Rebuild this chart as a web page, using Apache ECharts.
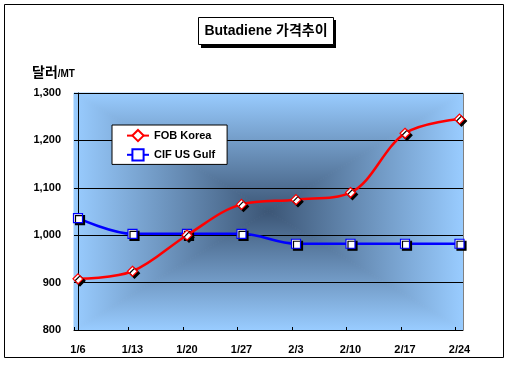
<!DOCTYPE html>
<html><head><meta charset="utf-8">
<script src="https://cdn.jsdelivr.net/npm/echarts@6/dist/echarts.min.js"></script>
<style>html,body{margin:0;padding:0;background:#fff}#c{width:508px;height:367px}</style>
</head><body><div id="c"></div>
<script>
const categories = ['1/6','1/13','1/20','1/27','2/3','2/10','2/17','2/24'];
const fobKorea = [908, 924, 1000, 1065, 1075, 1090, 1215, 1245];
const cifUsGulf = [1036, 1003, 1003, 1003, 982, 982, 982, 982];
const yTicks = [800, 900, 1000, 1100, 1200, 1300];
const titleText = 'Butadiene 가격추이';
const seriesNames = ['FOB Korea', 'CIF US Gulf'];

const chart = echarts.init(document.getElementById('c'), null, {renderer:'canvas'});
const L = 74, R = 463, T = 93, B = 330;
const cx = (L + R) / 2, cy = (T + B) / 2;
const edge = '#99CCFF', dark = '#3c5676';
function lg(x1,y1,x2,y2){ return new echarts.graphic.LinearGradient(x1,y1,x2,y2,[{offset:0,color:edge},{offset:1,color:dark}],true); }
function tri(points, g){ return {type:'polygon', z:-10, shape:{points:points}, style:{fill:g, stroke:g, lineWidth:1}}; }
const font = 'Arial, "Liberation Sans", "Noto Sans CJK KR", sans-serif';
const shadow = {shadowColor:'#000', shadowBlur:0, shadowOffsetX:2, shadowOffsetY:2};

chart.setOption({
  animation:false,
  backgroundColor:'#fff',
  textStyle:{fontFamily:font},
  graphic:[
    {type:'rect', z:-20, shape:{x:4.5,y:4.5,width:499,height:353}, style:{fill:'#fff', stroke:'#000', lineWidth:1}},
    tri([[L,T],[R,T],[cx,cy]], lg(0,T,0,cy)),
    tri([[L,B],[R,B],[cx,cy]], lg(0,B,0,cy)),
    tri([[L,T],[L,B],[cx,cy]], lg(L,0,cx,0)),
    tri([[R,T],[R,B],[cx,cy]], lg(R,0,cx,0)),
    {type:'polyline', z:-5, shape:{points:[[L,T+0.5],[R+0.5,T+0.5],[R+0.5,B]]}, style:{stroke:'#808080', lineWidth:1, fill:null}},
    {type:'rect', z:100, shape:{x:201,y:20,width:135,height:28}, style:{fill:'#000'}},
    {type:'rect', z:101, shape:{x:198.5,y:17.5,width:135,height:27}, style:{fill:'#fff', stroke:'#000', lineWidth:1}},
    {type:'text', z:102, x:266, y:31, style:{text:titleText, font:'bold 14px '+font, fill:'#000', align:'center', verticalAlign:'middle'}},
    {type:'text', z:102, x:32, y:73, style:{text:'{a|달러}{b|/MT}', verticalAlign:'middle',
      rich:{a:{font:'bold 14px '+font, fill:'#000'}, b:{font:'bold 10px '+font, fill:'#000', padding:[2,0,0,0]}}}}
  ],
  legend:{
    show:true, left:112, top:125, orient:'vertical',
    backgroundColor:'#fff', borderColor:'#000', borderWidth:1, borderRadius:0,
    padding:[4,12,3,14], itemWidth:22, itemHeight:14, itemGap:6,
    textStyle:{fontFamily:font, fontWeight:'bold', fontSize:11, color:'#000'},
    itemStyle:{shadowColor:'transparent'},
    data:seriesNames
  },
  grid:{left:L, right:508-R, top:T, bottom:367-B, containLabel:false},
  xAxis:{
    type:'value', min:-4/54.5, max:7+3.5/54.5,
    splitLine:{show:false},
    axisLine:{show:true, lineStyle:{color:'#000', width:1}},
    axisTick:{show:true, inside:true, length:3, lineStyle:{color:'#000'}, customValues:categories.map((c,i)=>i-0.07)},
    axisLabel:{customValues:categories.map((c,i)=>i), formatter:v=>categories[Math.round(v)], margin:14,
      fontFamily:font, fontWeight:'bold', fontSize:11, color:'#000'}
  },
  yAxis:{
    type:'value', min:yTicks[0], max:yTicks[yTicks.length-1], interval:100,
    axisLine:{show:true, lineStyle:{color:'#000', width:1}},
    axisTick:{show:false},
    splitLine:{show:true, lineStyle:{color:'#000', width:1}},
    axisLabel:{margin:13, fontFamily:font, fontWeight:'bold', fontSize:11, color:'#000',
      formatter:v=>v.toLocaleString('en-US')}
  },
  series:[
    {name:seriesNames[0], type:'line', smooth:0.35, data:fobKorea.map((v,i)=>[i,v]),
      symbol:'diamond', symbolSize:10, lineStyle:{color:'#FF0000', width:2.5},
      itemStyle:Object.assign({color:'#fff', borderColor:'#FF0000', borderWidth:1.2}, shadow), z:3},
    {name:seriesNames[1], type:'line', smooth:0.35, data:cifUsGulf.map((v,i)=>[i,v]),
      symbol:'rect', symbolSize:9, lineStyle:{color:'#0000FF', width:2.5},
      itemStyle:Object.assign({color:'#fff', borderColor:'#0000FF', borderWidth:1.2}, shadow), z:2}
  ]
});
</script></body></html>
